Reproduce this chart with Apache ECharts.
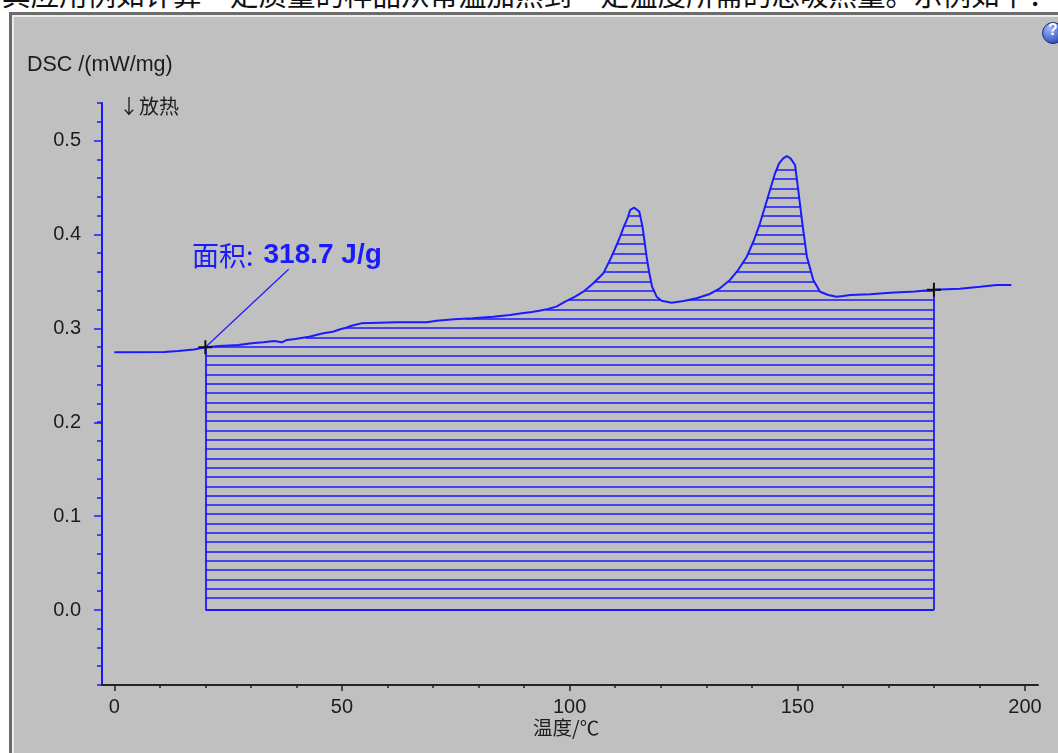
<!DOCTYPE html>
<html><head><meta charset="utf-8">
<script src="https://cdn.jsdelivr.net/npm/echarts@6/dist/echarts.min.js"></script>
<style>
html,body{margin:0;padding:0;width:1058px;height:753px;overflow:hidden;background:#fff;}
#top{position:absolute;left:0;top:0;width:1058px;height:11px;overflow:hidden;}
#top span{position:absolute;left:2px;top:-21px;font:28.5px/29px 'Noto Sans CJK SC';color:#111;white-space:nowrap;}
#frame{position:absolute;left:9px;top:12px;width:1060px;height:760px;background:#6c6c6c;}
#frame2{position:absolute;left:12px;top:15px;width:1060px;height:760px;background:#ececec;}
#panel{position:absolute;left:14px;top:17px;width:1060px;height:760px;background:#c0c0c0;}
#chart{position:absolute;left:0;top:0;width:1058px;height:753px;}
</style></head>
<body>
<div id="top"><span>其应用例如计算一定质量的样品从常温加热到一定温度所需的总吸热量。示例如下：</span></div>
<div id="frame"></div><div id="frame2"></div><div id="panel"></div>
<div id="chart"></div>
<script>
// ---- data ----
const temperature = [0, 11, 14, 17.5, 20, 23.2, 27.2, 30.2, 32.7, 35.1, 36.8, 37.9, 39.7, 42.8, 44.3, 45.9, 48.0, 49.6, 50.9, 52.1, 54.2, 62.0, 68.6, 70.8, 74.6, 78.7, 83.2, 86.9, 89.5, 91.7, 93.3, 95.3, 97.2, 99.0, 101.2, 103.0, 105.2, 107.4, 109.2, 110.8, 111.9, 112.7, 113.3, 114.2, 115.3, 116.0, 116.4, 116.9, 117.5, 118.1, 119.1, 120.2, 122.4, 125.0, 127.9, 130.8, 133.0, 135.2, 137.0, 138.9, 140.5, 141.8, 142.9, 144.0, 145.1, 146.0, 146.9, 147.7, 148.5, 149.5, 150.2, 151.1, 152.1, 153.5, 155.0, 156.8, 158.6, 160.1, 161.6, 166.0, 170.4, 175.8, 180.0, 185.7, 190.1, 193.8, 197.0];
const dsc = [0.2746, 0.2748, 0.2759, 0.2775, 0.2799, 0.2813, 0.2823, 0.2841, 0.2852, 0.2866, 0.2852, 0.2877, 0.2887, 0.2912, 0.2930, 0.2948, 0.2965, 0.2991, 0.3008, 0.3029, 0.3054, 0.3065, 0.3065, 0.3082, 0.3097, 0.3108, 0.3125, 0.3143, 0.3161, 0.3175, 0.3189, 0.3207, 0.3235, 0.3285, 0.3338, 0.3391, 0.3481, 0.3587, 0.3764, 0.3942, 0.4084, 0.4173, 0.4262, 0.4286, 0.4244, 0.4084, 0.3942, 0.3764, 0.3587, 0.3445, 0.3338, 0.3295, 0.3274, 0.3292, 0.3321, 0.3367, 0.3427, 0.3516, 0.3622, 0.3764, 0.3942, 0.4120, 0.4297, 0.4475, 0.4653, 0.4759, 0.4812, 0.4837, 0.4812, 0.4741, 0.4475, 0.4120, 0.3764, 0.3516, 0.3391, 0.3356, 0.3338, 0.3345, 0.3356, 0.3365, 0.3380, 0.3394, 0.3412, 0.3422, 0.3443, 0.3462, 0.3462];
const integrationRange = [20, 180];
const leaderEnd = [38.3, 0.363];
const areaLabelName = '面积:';
const areaLabelValue = '318.7 J/g';
const xTickLabels = [0, 50, 100, 150, 200];
const yTickLabels = [0.0, 0.1, 0.2, 0.3, 0.4, 0.5];
const yAxisTitle = 'DSC /(mW/mg)';
const xAxisTitle = '温度/℃';
const exoLabel = '↓放热';

// ---- style ----
const BLUE = '#1a1aff';
const hatchStart = 0.0128, hatchStep = 0.00992, hatchCount = 47;

function valueAt(t){
  for (let i=1;i<temperature.length;i++){
    if (t <= temperature[i]){
      const a=temperature[i-1], b=temperature[i];
      return dsc[i-1] + (dsc[i]-dsc[i-1])*(t-a)/(b-a);
    }
  }
  return dsc[dsc.length-1];
}
const [x0, x1] = integrationRange;
const pts = [[x0, valueAt(x0)]];
for (let i=0;i<temperature.length;i++) if (temperature[i]>x0 && temperature[i]<x1) pts.push([temperature[i], dsc[i]]);
pts.push([x1, valueAt(x1)]);
const segs = [];
for (let k=0;k<hatchCount;k++){
  const h = hatchStart + k*hatchStep;
  let start = pts[0][1] >= h ? pts[0][0] : null;
  for (let i=1;i<pts.length;i++){
    const [ta,va]=pts[i-1], [tb,vb]=pts[i];
    const ina = va>=h, inb = vb>=h;
    if (ina!==inb){
      const tc = ta + (h-va)/(vb-va)*(tb-ta);
      if (inb) start = tc; else { segs.push([[start,h],[tc,h]]); start=null; }
    }
  }
  if (start!==null) segs.push([[start,h],[pts[pts.length-1][0],h]]);
}
const boxEdges = [
  [[x0,0],[x1,0]],
  [[x0,0],[x0,valueAt(x0)]],
  [[x1,0],[x1,valueAt(x1)]]
];

const chart = echarts.init(document.getElementById('chart'), null, {renderer:'canvas'});
const tickFont = {fontFamily:'Liberation Sans, Arial, sans-serif', fontSize:20, color:'#1c1c1c'};
chart.setOption({
  backgroundColor:'transparent',
  animation:false,
  grid:[
    {left:102, right:20, top:103, bottom:68},
    {left:114.3, right:33, top:140.7, bottom:143}
  ],
  xAxis:[
    {gridIndex:0, type:'value', min:-2.77, max:203,
     axisLine:{show:true, onZero:false, lineStyle:{color:'#222', width:2}},
     axisTick:{show:false}, axisLabel:{show:false}, splitLine:{show:false}},
    {gridIndex:1, type:'value', min:0, max:200, interval:50, offset:75,
     axisLine:{show:false, onZero:false},
     axisTick:{show:true, inside:false, length:6, lineStyle:{color:'#222', width:1.5}},
     minorTick:{show:true, splitNumber:5, length:3, lineStyle:{color:'#222', width:1.5}},
     axisLabel:Object.assign({show:true, margin:12, formatter:v=>xTickLabels.includes(v)?String(v):''}, tickFont),
     splitLine:{show:false}, minorSplitLine:{show:false}}
  ],
  yAxis:[
    {gridIndex:0, type:'value', min:-0.08, max:0.54, interval:0.02,
     axisLine:{show:true, onZero:false, lineStyle:{color:BLUE, width:2}},
     axisTick:{show:true, inside:false, length:5, lineStyle:{color:BLUE, width:1.5}},
     axisLabel:{show:false}, splitLine:{show:false}},
    {gridIndex:1, type:'value', min:0, max:0.5, interval:0.1, offset:12.3,
     axisLine:{show:false, onZero:false},
     axisTick:{show:true, inside:false, length:8, lineStyle:{color:BLUE, width:1.5}},
     axisLabel:Object.assign({show:true, margin:21, formatter:v=>{
        const r=Math.round(v*10)/10; return yTickLabels.includes(r)?r.toFixed(1):''; }}, tickFont),
     splitLine:{show:false}}
  ],
  series:[
    {type:'lines', coordinateSystem:'cartesian2d', xAxisIndex:1, yAxisIndex:1, silent:true, z:2,
     data:segs.map(c=>({coords:c})), lineStyle:{color:BLUE, width:1.6, opacity:1}},
    {type:'lines', coordinateSystem:'cartesian2d', xAxisIndex:1, yAxisIndex:1, silent:true, z:3,
     data:boxEdges.map(c=>({coords:c})), lineStyle:{color:BLUE, width:1.8, opacity:1}},
    {type:'line', xAxisIndex:1, yAxisIndex:1, silent:true, z:4, showSymbol:false, symbol:'none',
     data:temperature.map((t,i)=>[t,dsc[i]]), lineStyle:{color:BLUE, width:2}},
    {type:'line', xAxisIndex:1, yAxisIndex:1, silent:true, z:4, showSymbol:false, symbol:'none',
     data:[[x0,valueAt(x0)], leaderEnd], lineStyle:{color:BLUE, width:1.2}},
    {type:'scatter', xAxisIndex:1, yAxisIndex:1, silent:true, z:5,
     symbol:'path://M0,6H14V8H0Z M6,0H8V14H6Z', symbolSize:14,
     data:[[x0,valueAt(x0)],[x1,valueAt(x1)]], itemStyle:{color:'#111', opacity:1}}
  ],
  graphic:[
    {type:'text', left:27, top:54, style:{text:yAxisTitle, fill:'#1c1c1c', font:'21.5px "Liberation Sans", Arial, sans-serif'}},
    {type:'text', left:119, top:96, style:{text:exoLabel, fill:'#1c1c1c', font:'20px "Noto Sans CJK SC", sans-serif'}},
    {type:'text', left:533, top:718, style:{text:xAxisTitle, fill:'#1c1c1c', font:'19.5px "Noto Sans CJK SC", sans-serif'}},
    {type:'text', left:192, top:241, style:{
      text:'{a|'+areaLabelName+'}{s| }{b|'+areaLabelValue+'}',
      rich:{
        a:{fill:BLUE, fontSize:27, fontFamily:'Noto Sans CJK SC', verticalAlign:'bottom'},
        s:{fill:BLUE, fontSize:10, width:10, verticalAlign:'bottom'},
        b:{fill:BLUE, fontSize:28, fontWeight:'bold', fontFamily:'Liberation Sans, Arial', verticalAlign:'bottom'}
      }}},
    {type:'circle', shape:{cx:1053, cy:33, r:10.5}, style:{
      fill:new echarts.graphic.RadialGradient(0.35,0.3,0.8,[{offset:0,color:'#9fb6ff'},{offset:1,color:'#1f3fa8'}]),
      stroke:'#1a2f80', lineWidth:1}},
    {type:'text', x:1048, y:23, style:{text:'?', fill:'#fff', font:'bold 16px "Liberation Sans", Arial'}}
  ]
});
</script>
</body></html>
